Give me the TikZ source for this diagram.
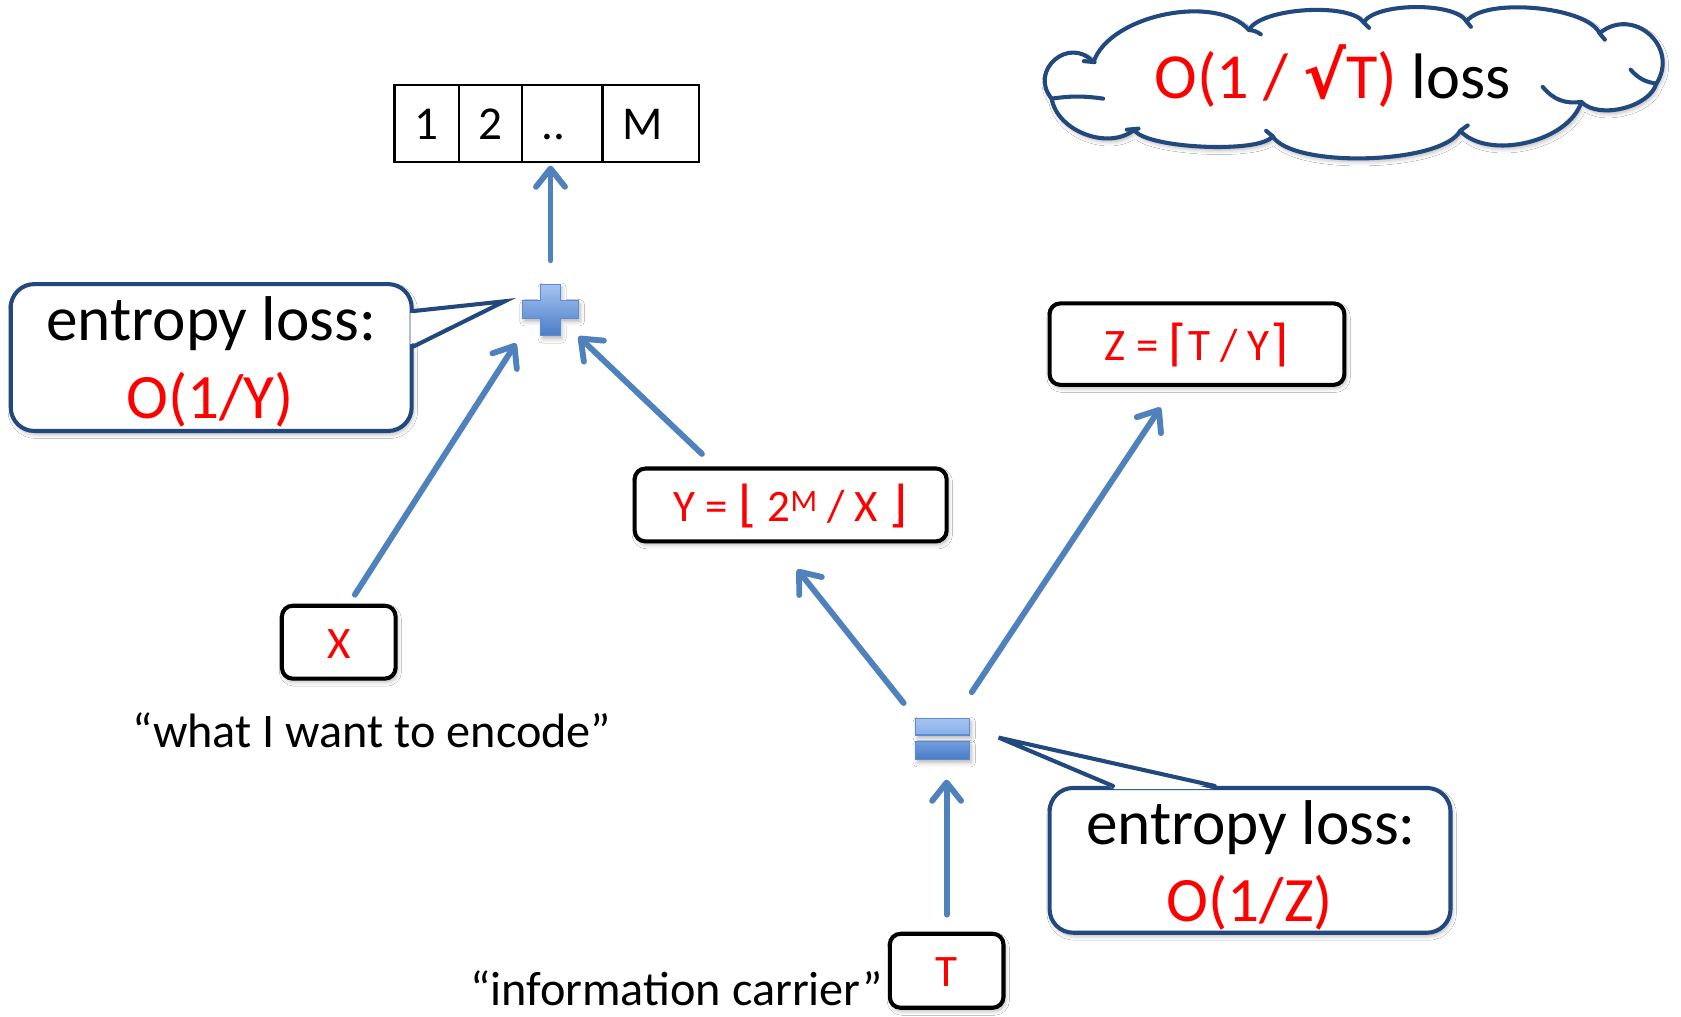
\documentclass[tikz,border=0pt]{standalone}
\usepackage{fontspec}
\setmainfont{Carlito}
\newfontfamily\djv{DejaVu Sans}
\usetikzlibrary{arrows.meta,calc,shadows.blur}
\definecolor{flowblue}{HTML}{4F81BD}
\definecolor{calloutblue}{HTML}{22497E}
\definecolor{iconlight}{HTML}{A6C4F2}
\definecolor{icondark}{HTML}{4A7DC6}
\definecolor{iconmid}{HTML}{86AEE8}
\definecolor{iconmid2}{HTML}{6F9DDF}
\definecolor{iconedge}{HTML}{5C8BD1}
\begin{document}
\begin{tikzpicture}[x=1pt,y=-1pt,
  boxshadow/.style={blur shadow={shadow xshift=1.5pt, shadow yshift=-3pt, shadow blur radius=4pt, shadow opacity=30}},
  cell/.style={draw=black, line width=2pt, minimum height=72pt, inner sep=0pt,
    font=\fontsize{44}{52}\selectfont, text height=29pt, text depth=0pt},
  valbox/.style={draw=black, fill=white, line width=3.8pt, rounded corners=10pt, inner sep=0pt,
    text=red, font=\fontsize{42}{50}\selectfont, text height=30pt, text depth=0pt, boxshadow},
  flow/.style={draw=flowblue, line width=5.5pt, line cap=round,
    -{Straight Barb[length=17pt,width=27pt,round]}},
  callframe/.style={draw=calloutblue, line width=3.8pt, fill=white, rounded corners=22pt, inner sep=0pt, boxshadow},
  calltail/.style={draw=calloutblue, line width=3.8pt, line join=miter, line cap=round},
  calltext/.style={anchor=base, font=\fontsize{59}{70}\selectfont, inner sep=0pt},
  note/.style={font=\fontsize{45}{52}\selectfont, inner sep=0pt},
  cloudline/.style={draw=calloutblue, line width=3.8pt, line cap=round, line join=round},
  iconedge/.style={draw=iconedge, line width=1pt, boxshadow}
]
\useasboundingbox (0,0) rectangle (1568,948);
\fill[white] (0,0) rectangle (1568,948);

% ---- register cells 1 2 .. M
\node[cell, minimum width=60pt] (c1) at (398,115.5) {1};
\node[cell, minimum width=59pt] (c2) at (457.5,115.5) {2};
\node[cell, minimum width=75pt] (c3) at (524.5,115.5) {\hspace*{-17pt}..};
\node[cell, minimum width=90pt] (c4) at (607,115.5) {\hspace*{-16pt}M};

% ---- plus operator
\node[inner sep=0pt, minimum width=52pt, minimum height=48pt] (plus) at (513.5,289) {};
\begin{scope}[shift={(plus.center)}]
  \shade[iconedge, top color=iconlight, bottom color=icondark]
    (-9,-24) -- (9,-24) -- (9,-8.5) -- (26,-8.5) -- (26,8) -- (9,8) -- (9,24)
    -- (-9,24) -- (-9,8) -- (-26,8) -- (-26,-8.5) -- (-9,-8.5) -- cycle;
\end{scope}

% ---- equals operator
\node[inner sep=0pt, minimum width=50pt, minimum height=38pt] (eq) at (879.3,689) {};
\begin{scope}[shift={(eq.center)}]
  \shade[iconedge, top color=iconlight, bottom color=iconmid] (-25,-19) rectangle (25,-3.4);
  \shade[iconedge, top color=iconmid2, bottom color=icondark] (-25,2.8) rectangle (25,19.3);
\end{scope}

% ---- value boxes
\node[valbox, minimum width=291pt, minimum height=68pt] (Y) at (737.5,471)
  {Y = {\djv\fontsize{46}{50}\selectfont ⌊} 2\raisebox{9pt}{\fontsize{29}{30}\selectfont M} / X {\djv\fontsize{46}{50}\selectfont ⌋}};
\node[valbox, minimum width=275pt, minimum height=76pt] (Z) at (1116.5,321)
  {Z = {\djv\fontsize{46}{50}\selectfont ⌈}T / Y{\djv\fontsize{46}{50}\selectfont ⌉}};
\node[valbox, minimum width=106pt, minimum height=68pt] (X) at (316,599) {X};
\node[valbox, minimum width=106pt, minimum height=69pt] (T) at (883,905.5) {T};

% ---- captions
\node[note, anchor=base] (xlab) at (347,697) {“what I want to encode”};
\node[note, anchor=base east] (tlab) at (824,938) {“information carrier”};

% ---- left callout
\node[callframe, minimum width=374pt, minimum height=137pt] (lcall) at (197,333.5) {};
\coordinate (ltip) at ($(plus.west)+(-16.5,-8)$);
\fill[white] ($(lcall.north east)+(-3,29)$) -- (ltip) -- ($(lcall.north east)+(-3,58)$) -- cycle;
\draw[calltail] ($(lcall.north east)+(0,27)$) -- (ltip) -- ($(lcall.north east)+(0,60)$);
\node[calltext] (lcall1) at (197,318) {entropy loss:};
\node[calltext, text=red] (lcall2) at (196,390) {O(1/Y)};

% ---- right callout
\node[callframe, minimum width=374pt, minimum height=135pt] (rcall) at (1166,802.5) {};
\coordinate (rtip) at ($(eq.east)+(27,-1)$);
\fill[white] ($(rcall.north west)+(63,3)$) -- (rtip) -- ($(rcall.north west)+(154,3)$) -- cycle;
\draw[calltail] ($(rcall.north west)+(61,0)$) -- (rtip) -- ($(rcall.north west)+(156,0)$);
\node[calltext] (rcall1) at (1167,788) {entropy loss:};
\node[calltext, text=red] (rcall2) at (1166,860) {O(1/Z)};

% ---- cloud
\draw[cloudline, fill=white, boxshadow] (1020,58)
  to[bend left=60, looseness=0.80] (1165,28)
  to[bend left=60, looseness=0.55] (1272,21)
  to[bend left=60, looseness=0.57] (1368,20)
  to[bend left=60, looseness=0.57] (1492,31)
  to[bend left=81, looseness=1.47] (1545,78)
  to[bend left=60, looseness=0.82] (1475,95)
  to[bend left=60, looseness=0.85] (1362,122)
  to[bend left=60, looseness=0.52] (1187,127)
  to[bend left=60, looseness=0.39] (1058,121)
  to[bend left=60, looseness=0.96] (981,92)
  to[bend left=89, looseness=1.68] (1020,58) -- cycle;
\draw[cloudline] (981,92) to[bend left=8] (1029,92);
\draw[cloudline] (1011,57) -- (1021,58);
\draw[cloudline] (1165,28) to[bend left=15] (1176,32);
\draw[cloudline] (1272,21) -- (1277,26);
\draw[cloudline] (1368,20) -- (1372,25);
\draw[cloudline] (1492,31) -- (1497,37);
\draw[cloudline] (1545,78) to[bend left=20] (1521,65);
\draw[cloudline] (1475,95) to[bend left=30] (1439,81);
\draw[cloudline] (1362,122) -- (1369,117);
\draw[cloudline] (1187,127) -- (1181,122);
\draw[cloudline] (1051,121) -- (1062,120);
\node[font=\fontsize{60}{70}\selectfont, anchor=base, inner sep=0pt] (cloudtxt) at (1243,92)
  {\textcolor{red}{O(1 / {\djv\bfseries √}T)} loss};

% ---- connectors
\draw[flow, shorten <=22pt, shorten >=2pt] (plus.north) -- (plus.north |- c3.south);
\draw[flow, shorten <=10pt, shorten >=11pt] (X.75) -- (plus.220);
\draw[flow, shorten <=17pt, shorten >=1pt] (Y.153) -- (plus);
\draw[flow, shorten <=18pt, shorten >=31pt] (eq.north west) -- (Y.250);
\draw[flow, shorten <=29pt, shorten >=23pt] (eq.60) -- (Z.242);
\draw[flow, shorten <=16pt, shorten >=19pt] (T.north) -- (T.north |- eq.south);
\end{tikzpicture}
\end{document}
